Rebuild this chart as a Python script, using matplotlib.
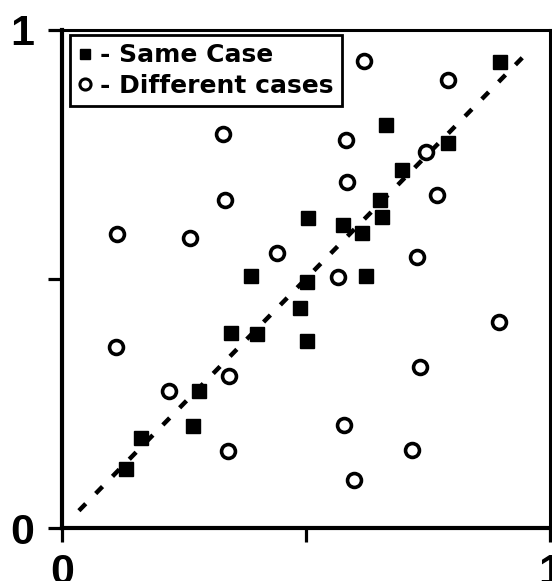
import matplotlib
matplotlib.use('Agg')
import matplotlib.pyplot as plt
from matplotlib.lines import Line2D

# same case (filled squares)
same_x = [0.131, 0.163, 0.269, 0.282, 0.347, 0.400, 0.388, 0.488, 0.502, 0.502,
          0.504, 0.576, 0.616, 0.624, 0.653, 0.657, 0.665, 0.698, 0.792, 0.898]
same_y = [0.119, 0.181, 0.204, 0.276, 0.391, 0.389, 0.506, 0.442, 0.375, 0.494,
          0.623, 0.609, 0.593, 0.506, 0.659, 0.625, 0.808, 0.718, 0.772, 0.935]

# different cases (open circles)
diff_x = [0.620, 0.792, 0.331, 0.582, 0.747, 0.584, 0.769, 0.335, 0.114, 0.263, 0.441,
          0.727, 0.565, 0.896, 0.112, 0.733, 0.343, 0.220, 0.578, 0.341, 0.718, 0.598]
diff_y = [0.938, 0.899, 0.790, 0.778, 0.754, 0.694, 0.669, 0.659, 0.591, 0.583, 0.552,
          0.544, 0.504, 0.413, 0.363, 0.323, 0.306, 0.276, 0.206, 0.155, 0.157, 0.097]

diag = [0.035, 0.945]
ticks = [0, 0.5, 1]
tick_labels = ['0', '', '1']

fig = plt.figure(figsize=(5.52, 5.81), dpi=100)
ax = fig.add_axes([0.112, 0.091, 0.884, 0.858])

ax.plot(diag, diag, color='black', lw=3.2, linestyle=(0, (2.2, 3.2)), zorder=1)
ax.plot(same_x, same_y, 's', ms=10, color='black', zorder=3)
ax.plot(diff_x, diff_y, 'o', ms=10, mfc='white', mec='black', mew=2.6, zorder=3)

ax.set_xlim(0, 1)
ax.set_ylim(0, 1)
for side in ['left', 'bottom']:
    ax.spines[side].set_linewidth(3)
for side in ['top', 'right']:
    ax.spines[side].set_linewidth(2.2)

ax.set_xticks(ticks)
ax.set_xticklabels(tick_labels)
ax.set_yticks(ticks)
ax.set_yticklabels(tick_labels)
ax.tick_params(direction='out', length=10, width=2.3, labelsize=31)
ax.tick_params(axis='y', pad=10)
ax.tick_params(axis='x', pad=8)
for lab in ax.get_xticklabels() + ax.get_yticklabels():
    lab.set_fontweight('bold')
    lab.set_fontfamily('Liberation Sans')

handles = [
    Line2D([], [], marker='s', ls='none', ms=7, color='black'),
    Line2D([], [], marker='o', ls='none', ms=8, mfc='white', mec='black', mew=2.2),
]
leg = ax.legend(handles, ['- Same Case', '- Different cases'], loc='upper left',
                bbox_to_anchor=(0.016, 0.99), fancybox=False, framealpha=1,
                edgecolor='black', handlelength=0.5, handletextpad=0.35,
                borderpad=0.35, labelspacing=0.25, borderaxespad=0,
                prop={'family': 'DejaVu Sans', 'weight': 'bold', 'size': 18})
leg.get_frame().set_linewidth(2)

fig.savefig('out.png', dpi=100)
